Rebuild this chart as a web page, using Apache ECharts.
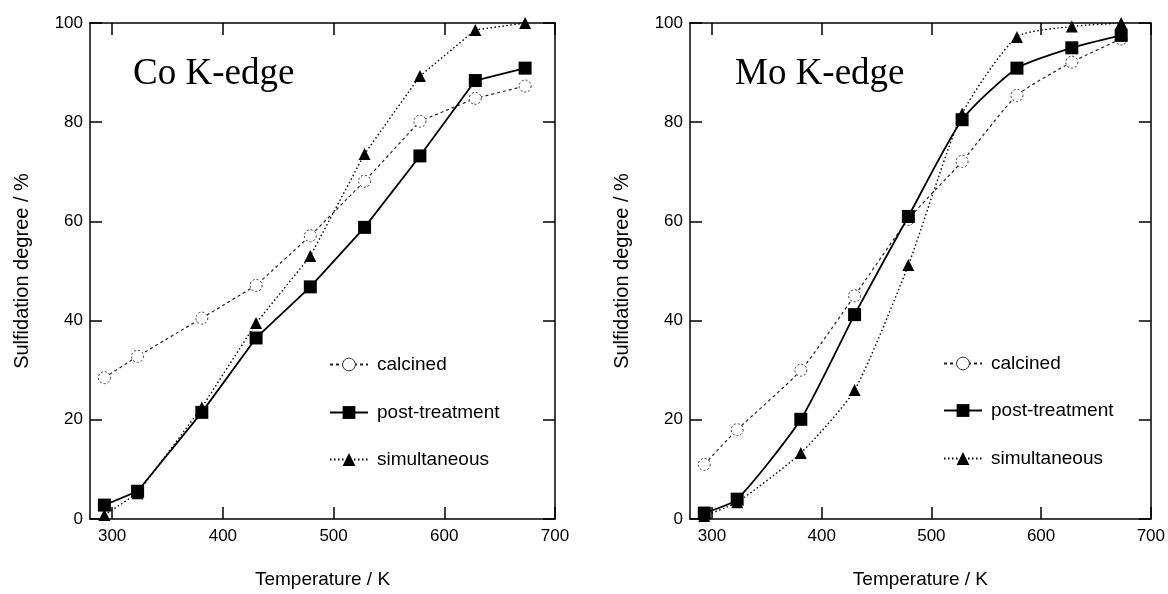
<!DOCTYPE html>
<html>
<head>
<meta charset="utf-8">
<script src="https://cdn.jsdelivr.net/npm/echarts@6/dist/echarts.min.js"></script>
<style>
html, body { margin: 0; padding: 0; background: #fff; }
#main { width: 1168px; height: 594px; }
</style>
</head>
<body>
<div id="main"></div>
<script>
// temperatures (K), shared by both panels
var temps = [293, 323, 381, 430, 479, 528, 578, 628, 673];

// Co K-edge
var coCalcined = [28.5, 32.8, 40.5, 47.1, 57.1, 68.1, 80.2, 84.8, 87.3];
var coPost     = [2.8, 5.6, 21.5, 36.5, 46.8, 58.8, 73.2, 88.4, 90.9];
var coSimul    = [0.8, 5.2, 22.5, 39.5, 53.0, 73.6, 89.3, 98.6, 100.0];

// Mo K-edge
var moCalcined = [11.0, 18.0, 30.0, 45.0, 60.4, 72.1, 85.4, 92.1, 96.8];
var moPost     = [1.2, 4.0, 20.1, 41.2, 61.0, 80.5, 90.9, 95.0, 97.5];
var moSimul    = [0.6, 3.4, 13.3, 26.0, 51.2, 81.7, 97.2, 99.3, 100.0];

var xTicks = [300, 400, 500, 600, 700];
var panelTitles = ['Co K-edge', 'Mo K-edge'];
var seriesNames = ['calcined', 'post-treatment', 'simultaneous'];

var SANS = '"Liberation Sans", Arial, sans-serif';
var SERIF = '"Liberation Serif", "Times New Roman", serif';
var INK = '#000';

function pairs(ys) {
	return temps.map(function (t, i) { return [t, ys[i]]; });
}

var grids = [
	{left: 90, top: 23, width: 465, height: 504},
	{left: 690, top: 23, width: 466, height: 504}
];

var frameLine = {show: true, onZero: false, lineStyle: {color: INK, width: 1.5}};
var innerTick = {show: true, inside: true, length: 12, lineStyle: {color: INK, width: 1.5}};

var xAxes = [], yAxes = [];
grids.forEach(function (g, gi) {
	xAxes.push({
		type: 'value', gridIndex: gi, position: 'bottom', min: 280, max: 700,
		axisLine: frameLine,
		axisTick: Object.assign({customValues: xTicks}, innerTick),
		axisLabel: {customValues: xTicks, margin: 9, fontSize: 17, color: INK, fontFamily: SANS},
		splitLine: {show: false},
		name: 'Temperature / K', nameLocation: 'middle', nameGap: 51,
		nameTextStyle: {fontSize: 19, color: INK, fontFamily: SANS}
	});
	xAxes.push({
		type: 'value', gridIndex: gi, position: 'top', min: 280, max: 700,
		axisLine: frameLine,
		axisTick: Object.assign({customValues: xTicks}, innerTick),
		axisLabel: {show: false},
		splitLine: {show: false}
	});
	yAxes.push({
		type: 'value', gridIndex: gi, position: 'left', min: 0, max: 100, interval: 20,
		axisLine: frameLine,
		axisTick: innerTick,
		axisLabel: {margin: 7, fontSize: 17, color: INK, fontFamily: SANS},
		splitLine: {show: false},
		name: 'Sulfidation degree / %', nameLocation: 'middle', nameGap: 58,
		nameTextStyle: {fontSize: 20, color: INK, fontFamily: SANS}
	});
	yAxes.push({
		type: 'value', gridIndex: gi, position: 'right', min: 0, max: 100, interval: 20,
		axisLine: frameLine,
		axisTick: innerTick,
		axisLabel: {show: false},
		splitLine: {show: false}
	});
});

function mkSeries(gi, ys, kind) {
	var s = {
		type: 'line',
		name: seriesNames[kind],
		xAxisIndex: gi * 2,
		yAxisIndex: gi * 2,
		data: pairs(ys),
		smooth: gi === 1 ? 0.2 : false,
		symbolSize: 13,
		silent: true
	};
	if (kind === 0) {
		s.symbol = 'circle';
		s.symbolSize = 12;
		s.lineStyle = {color: '#222', width: 1.2, type: [3, 3]};
		s.itemStyle = {color: '#fff', borderColor: '#333', borderWidth: 1, borderType: [2, 2]};
		s.z = 2;
	} else if (kind === 1) {
		s.symbol = 'rect';
		s.lineStyle = {color: INK, width: 1.8, type: 'solid'};
		s.itemStyle = {color: INK, borderColor: INK, borderWidth: 0};
		s.z = 4;
	} else {
		s.symbol = 'triangle';
		s.symbolSize = 12;
		s.lineStyle = {color: INK, width: 1.4, type: [1.5, 2.5]};
		s.itemStyle = {color: INK, borderColor: INK, borderWidth: 0};
		s.z = 3;
	}
	return s;
}

var series = [
	mkSeries(0, coCalcined, 0), mkSeries(0, coPost, 1), mkSeries(0, coSimul, 2),
	mkSeries(1, moCalcined, 0), mkSeries(1, moPost, 1), mkSeries(1, moSimul, 2)
];

// one legend per entry, stacked inside each panel
var legendLeft = [329, 943];
var legendCenters = [[363, 411, 458], [362, 409, 457]];
var legends = [];
grids.forEach(function (g, gi) {
	seriesNames.forEach(function (nm, k) {
		legends.push({
			data: [nm],
			left: legendLeft[gi],
			top: legendCenters[gi][k] - 8,
			padding: 0,
			itemWidth: 38,
			itemHeight: 16,
			selectedMode: false,
			itemStyle: {borderWidth: k === 0 ? 1 : 0},
			textStyle: {fontSize: 19, lineHeight: 16, color: INK, fontFamily: SANS, padding: [0, 0, 0, 4]}
		});
	});
});

var titles = panelTitles.map(function (t, gi) {
	return {
		text: t,
		left: gi === 0 ? 133 : 735,
		top: 56,
		padding: 0,
		textStyle: {fontFamily: SERIF, fontSize: 37, fontWeight: 'normal', color: INK}
	};
});

var myChart = echarts.init(document.getElementById('main'));
myChart.setOption({
	backgroundColor: '#fff',
	animation: false,
	title: titles,
	legend: legends,
	grid: grids,
	xAxis: xAxes,
	yAxis: yAxes,
	series: series
});
</script>
</body>
</html>
